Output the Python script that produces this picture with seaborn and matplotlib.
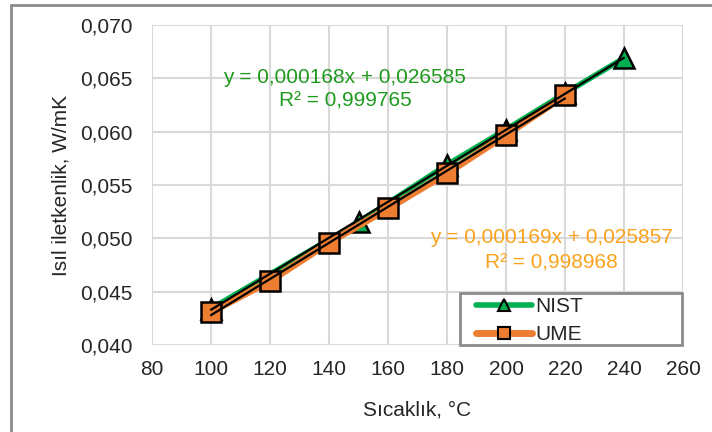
import numpy as np
import pandas as pd
import matplotlib
matplotlib.use("Agg")
import matplotlib.pyplot as plt
import seaborn as sns
from matplotlib.lines import Line2D
from matplotlib.patches import Rectangle
from matplotlib.ticker import FuncFormatter, MultipleLocator

# Data
nist_x = [100, 150, 180, 200, 220, 240]
nist_y = [0.0434, 0.0515, 0.0569, 0.0602, 0.0636, 0.0669]
ume_x = [100, 120, 140, 160, 180, 200, 220]
ume_y = [0.0431, 0.0460, 0.0496, 0.0528, 0.0561, 0.0597, 0.0634]
series_names = ["NIST", "UME"]
nist_eq = ["y = 0,000168x + 0,026585", "R² = 0,999765"]
ume_eq = ["y = 0,000169x + 0,025857", "R² = 0,998968"]
x_label = "Sıcaklık, °C"
y_label = "Isıl iletkenlik, W/mK"

sns.set_style("white")
plt.rcParams["font.family"] = ["Liberation Sans", "DejaVu Sans"]

W, H = 712, 432
fig = plt.figure(figsize=(W / 100, H / 100), dpi=100)
ax = fig.add_axes([152 / W, 1 - 345 / H, (683 - 152) / W, (345 - 25) / H])

green = "#00B050"
orange = "#ED7D31"

df_n = pd.DataFrame({"x": nist_x, "y": nist_y})
df_u = pd.DataFrame({"x": ume_x, "y": ume_y})

sns.lineplot(data=df_n, x="x", y="y", ax=ax, color=green, lw=4, marker="^",
             markersize=15, markerfacecolor=green, markeredgecolor="black",
             markeredgewidth=1.8, zorder=3)
sns.lineplot(data=df_u, x="x", y="y", ax=ax, color=orange, lw=5, marker="s",
             markersize=14, markerfacecolor=orange, markeredgecolor="black",
             markeredgewidth=1.8, zorder=4)

# linear trendlines
for xs, ys in [(nist_x, nist_y), (ume_x, ume_y)]:
    xs = np.array(xs, dtype=float)
    m, b = np.polyfit(xs, np.array(ys), 1)
    xx = np.array([xs.min(), xs.max()])
    ax.plot(xx, m * xx + b, color="black", lw=1.6, zorder=5)

ax.set_xlim(80, 260)
ax.set_ylim(0.040, 0.070)
ax.xaxis.set_major_locator(MultipleLocator(20))
ax.yaxis.set_major_locator(MultipleLocator(0.005))
ax.yaxis.set_major_formatter(FuncFormatter(lambda v, p: f"{v:.3f}".replace(".", ",")))
ax.grid(True, color="#d9d9d9", lw=1.5)
for s in ax.spines.values():
    s.set_visible(False)
ax.tick_params(axis="both", labelsize=15, length=0)
ax.tick_params(axis="y", pad=14)
ax.tick_params(axis="x", pad=11)
ax.set_xlabel(x_label, fontsize=15, labelpad=15)
ax.set_ylabel(y_label, fontsize=15, labelpad=7)

ax.text(145.4, 0.0651, nist_eq[0], color="#1E9A1E", fontsize=15, ha="center", va="center", zorder=6)
ax.text(145.4, 0.06284, nist_eq[1], color="#1E9A1E", fontsize=15, ha="center", va="center", zorder=6)
ax.text(215.3, 0.05006, ume_eq[0], color="#FAA21B", fontsize=15, ha="center", va="center", zorder=6)
ax.text(215.3, 0.04771, ume_eq[1], color="#FAA21B", fontsize=15, ha="center", va="center", zorder=6)

# legend frame
fig.patches.append(Rectangle((460 / W, 1 - 345 / H), (682 - 460) / W, (345 - 293) / H,
                             transform=fig.transFigure, facecolor="white",
                             edgecolor="#8c8c8c", lw=2, zorder=9))
handles = [
    Line2D([], [], color=green, lw=4, marker="^", markersize=8,
           markerfacecolor=green, markeredgecolor="black", markeredgewidth=1.5),
    Line2D([], [], color=orange, lw=5, marker="s", markersize=8,
           markerfacecolor=orange, markeredgecolor="black", markeredgewidth=1.5),
]
leg = fig.legend(handles, series_names, loc="upper left",
                 bbox_to_anchor=(476 / W, 1 - 297 / H),
                 fontsize=15, frameon=False,
                 handlelength=2.7, handletextpad=0.15, borderpad=0,
                 labelspacing=0.45, borderaxespad=0, handleheight=0.7)
leg.set_zorder(10)

fig.patches.append(Rectangle((11 / W, -0.1), 1.2, 1.1 - 5 / H,
                             transform=fig.transFigure, fill=False,
                             edgecolor="#8c8c8c", lw=2, zorder=0))

fig.savefig("out.png", dpi=100)
